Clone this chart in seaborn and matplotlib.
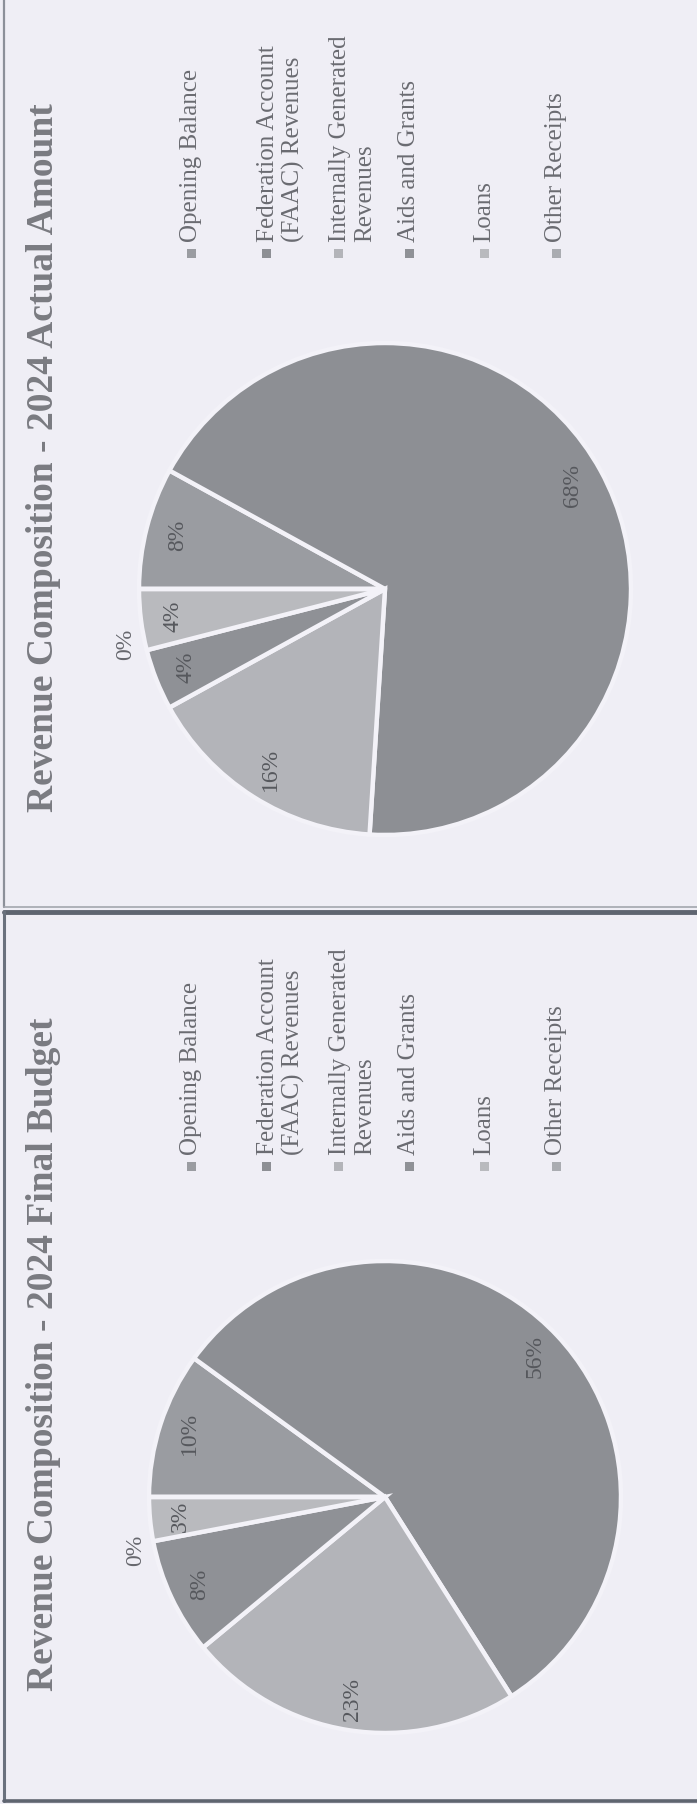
import matplotlib
matplotlib.use("Agg")
import matplotlib.pyplot as plt
import seaborn as sns
import numpy as np
from matplotlib.patches import Rectangle

# ---- data -------------------------------------------------------------
categories = [
    "Opening Balance",
    "Federation Account\n(FAAC) Revenues",
    "Internally Generated\nRevenues",
    "Aids and Grants",
    "Loans",
    "Other Receipts",
]
actual_pct = [8, 68, 16, 4, 4, 0]
budget_pct = [10, 56, 23, 8, 3, 0]
panel_titles = [
    "Revenue Composition - 2024 Actual Amount",
    "Revenue Composition - 2024 Final Budget",
]

# ---- style ------------------------------------------------------------
sns.set_theme(style="white")
plt.rcParams["font.family"] = ["Liberation Serif", "DejaVu Serif"]

PAGE = "#efeef5"
slice_colors = ["#9a9ca1", "#8d8f94", "#b3b4b9", "#8f9196", "#b9babe", "#aaacb1"]
TITLE_C = "#7a7b81"
LEGEND_C = "#6a6b71"
LABEL_C = "#56585d"

W, H = 697, 1804
fig = plt.figure(figsize=(W / 100, H / 100), dpi=100, facecolor=PAGE)

# overlay in pixel coordinates for frames, titles and legends
ov = fig.add_axes([0, 0, 1, 1], zorder=0)
ov.set_xlim(0, W)
ov.set_ylim(H, 0)
ov.axis("off")

# panel frames
ov.plot([4, 4], [0, 907], color="#8c9099", lw=1.6)
ov.plot([4, W], [907, 907], color="#a3a6ae", lw=1.2)
ov.plot([4, W], [911.5, 911.5], color="#5f6570", lw=3.5)
ov.plot([4, 4], [911, 1801], color="#6a717d", lw=2.2)
ov.plot([4, W], [1800.5, 1800.5], color="#5f6570", lw=2.6)

panels = [
    dict(values=actual_pct, title=panel_titles[0], ldy=0, cy=589, r=246, tcy=458),
    dict(values=budget_pct, title=panel_titles[1], ldy=913, cy=1497, r=236, tcy=1354),
]

legend_x = [191, 266, 338, 409, 484, 556]
LINE_PITCH = 30
legend_marker_y = 253
legend_text_y = 242

for p in panels:
    cx, cy, r = 385, p["cy"], p["r"]
    ax = fig.add_axes([(cx - r) / W, 1 - (cy + r) / H, 2 * r / W, 2 * r / H], zorder=2)
    ax.set_facecolor("none")
    wedges, _ = ax.pie(
        p["values"],
        colors=slice_colors,
        startangle=180,
        counterclock=False,
        radius=1.0,
        wedgeprops=dict(edgecolor="#f3f2f8", linewidth=3.2),
    )
    ax.set_xlim(-1.0, 1.0)
    ax.set_ylim(-1.0, 1.0)
    ax.set_aspect("equal")
    ax.axis("off")

    # percentage labels, written along the rotated page
    for w, v in zip(wedges, p["values"]):
        mid = np.deg2rad((w.theta1 + w.theta2) / 2)
        if v == 0:
            ang = mid + np.deg2rad(12)
            rr, col = 1.08, "#66676d"
        else:
            ang, rr, col = mid, 0.87, LABEL_C
        ax.text(rr * np.cos(ang), rr * np.sin(ang), f"{v}%", rotation=90,
                ha="center", va="center", fontsize=17, color=col)

    # title
    ov.text(44, p["tcy"], p["title"], rotation=90, rotation_mode="anchor",
            ha="center", va="center", fontsize=27, fontweight="bold", color=TITLE_C)

    # legend: square key followed by the category name
    for x, lab, c in zip(legend_x, categories, slice_colors):
        my = legend_marker_y + p["ldy"]
        ov.add_patch(Rectangle((x - 4.5, my - 4.5), 9, 9, facecolor=c, edgecolor="none"))
        n_lines = lab.count("\n") + 1
        tx = x + (n_lines - 1) * LINE_PITCH / 2
        ov.text(tx, legend_text_y + p["ldy"], lab, rotation=90, rotation_mode="anchor",
                ha="left", va="center", multialignment="left",
                fontsize=18, color=LEGEND_C, linespacing=1.2)

fig.savefig("out.png", dpi=100, facecolor=PAGE)
